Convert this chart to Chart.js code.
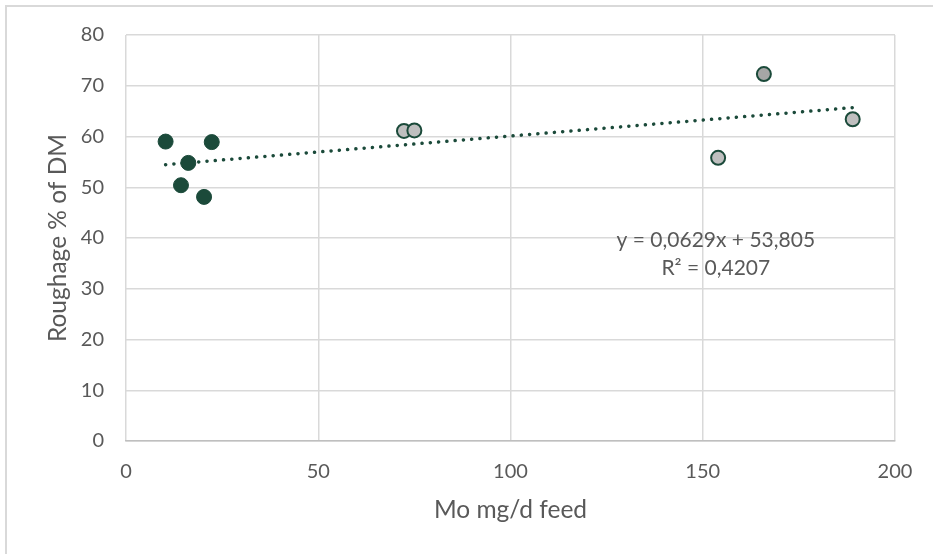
<!DOCTYPE html>
<html>
<head>
<meta charset="utf-8">
<script src="https://cdn.jsdelivr.net/npm/chart.js@4.4.1/dist/chart.umd.min.js"></script>
<style>
  html, body { margin: 0; padding: 0; background: #ffffff; }
  #wrap { position: absolute; left: 0; top: 0; width: 933px; height: 554px; }
  #frame { position: absolute; left: 5px; top: 5px; width: 940px; height: 560px;
           border-top: 2px solid #d9d9d9; border-left: 2px solid #d9d9d9; box-sizing: border-box; }
  canvas { position: absolute; left: 0; top: 0; }
</style>
</head>
<body>
<div id="wrap">
  <div id="frame"></div>
  <canvas id="c" width="933" height="554"></canvas>
</div>
<script>
// ---- data ----
const lowMoX  = [10.3, 22.3, 16.2, 14.3, 20.3];
const lowMoY  = [59.0, 58.9, 54.8, 50.4, 48.1];
const highMoX = [72.3, 75.0, 154.0, 165.9, 189.0];
const highMoY = [61.1, 61.2, 55.8, 72.3, 63.4];
const trendSlope = 0.0629;
const trendIntercept = 53.805;
const trendLabel = ["y = 0,0629x + 53,805", "R\u00B2 = 0,4207"];
const xTicks = [0, 50, 100, 150, 200];
const yTicks = [0, 10, 20, 30, 40, 50, 60, 70, 80];
const xTitle = "Mo mg/d feed";
const yTitle = "Roughage % of DM";

// ---- styles ----
const green = "#1b4a3a";
const highFill = ["#bfbfbf", "#bfbfbf", "#bfbfbf", "#a6a6a6", "#bfbfbf"];
const tickColor = "#595959";
const gridColor = "#d9d9d9";
const FONT = "Lato, 'Open Sans', sans-serif";

const allX = lowMoX.concat(highMoX);
const trendX = [Math.min(...allX), Math.max(...allX)];
const trendPts = trendX.map(x => ({ x: x, y: trendIntercept + trendSlope * x }));

const lowPts = lowMoX.map((x, i) => ({ x: x, y: lowMoY[i] }));
const highPts = highMoX.map((x, i) => ({ x: x, y: highMoY[i] }));

const labelPlugin = {
  id: 'trendLabel',
  afterDatasetsDraw(chart) {
    const ctx = chart.ctx;
    const xs = chart.scales.x, ys = chart.scales.y;
    const px = xs.getPixelForValue(153.4);
    const py = ys.getPixelForValue(39.6);
    ctx.save();
    ctx.font = "21px " + FONT;
    ctx.fillStyle = tickColor;
    ctx.textAlign = "center";
    ctx.textBaseline = "middle";
    trendLabel.forEach((t, i) => ctx.fillText(t, px, py + i * 28));
    ctx.restore();
  }
};

new Chart(document.getElementById('c'), {
  type: 'scatter',
  data: {
    datasets: [
      {
        label: 'trend',
        type: 'line',
        data: trendPts,
        borderColor: green,
        borderWidth: 3.5,
        borderDash: [0.1, 8.2],
        borderCapStyle: 'round',
        pointRadius: 0,
        fill: false,
        order: 3
      },
      {
        label: 'high',
        data: highPts,
        backgroundColor: highFill,
        borderColor: green,
        borderWidth: 2,
        pointRadius: 7,
        order: 2
      },
      {
        label: 'low',
        data: lowPts,
        backgroundColor: green,
        borderColor: green,
        borderWidth: 1,
        pointRadius: 7.5,
        order: 1
      }
    ]
  },
  options: {
    responsive: false,
    animation: false,
    devicePixelRatio: 1,
    layout: { padding: { top: 35, right: 38, left: 0, bottom: 0 } },
    plugins: { legend: { display: false }, tooltip: { enabled: false } },
    scales: {
      x: {
        type: 'linear',
        min: 0, max: 200,
        afterBuildTicks(s) { s.ticks = xTicks.map(v => ({ value: v })); },
        afterFit(s) { s.height = 113; },
        grid: { color: gridColor, lineWidth: 1.5, drawTicks: false },
        border: { display: true, color: "#bfbfbf", width: 1.5 },
        ticks: { color: tickColor, font: { family: FONT, size: 20 }, padding: 19, maxRotation: 0 },
        title: { display: true, text: xTitle, color: tickColor, font: { family: FONT, size: 24.5 }, padding: { top: 0, bottom: 29 } }
      },
      y: {
        type: 'linear',
        min: 0, max: 80,
        afterBuildTicks(s) { s.ticks = yTicks.map(v => ({ value: v })); },
        afterFit(s) { s.width = 126; },
        grid: { color: gridColor, lineWidth: 1.5, drawTicks: false },
        border: { display: false },
        ticks: { color: tickColor, font: { family: FONT, size: 20 }, padding: 22 },
        title: { display: true, text: yTitle, color: tickColor, font: { family: FONT, size: 24.5 }, padding: { top: 43, bottom: 0 } }
      }
    }
  },
  plugins: [labelPlugin]
});
</script>
</body>
</html>
